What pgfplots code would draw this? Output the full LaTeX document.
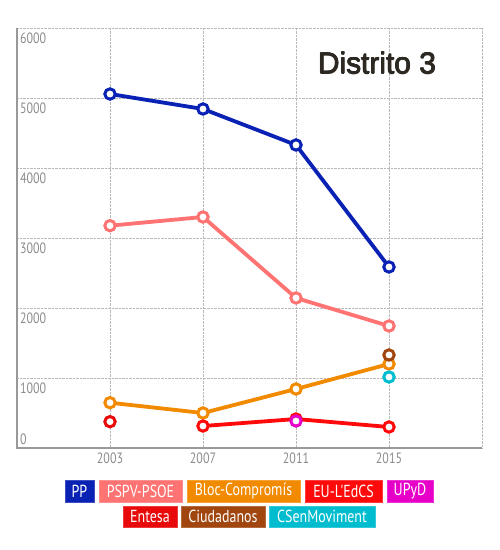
\documentclass[border=0pt]{standalone}
\usepackage{pgfplots}
\pgfplotsset{compat=1.18}
\usepackage{fontspec}
\setmainfont{Liberation Sans}
\newfontfamily\condfont[FakeStretch=0.8]{PT Sans}

\definecolor{ppc}{HTML}{0A22B4}
\definecolor{psoec}{HTML}{FF7373}
\definecolor{blocc}{HTML}{F28A00}
\definecolor{euc}{HTML}{FF0A0A}
\definecolor{upydc}{HTML}{E600C8}
\definecolor{entc}{HTML}{E80A0A}
\definecolor{csc}{HTML}{A0460E}
\definecolor{csenc}{HTML}{00BCCF}
\definecolor{tickc}{HTML}{8C8C8C}
\definecolor{titlec}{HTML}{2D2822}

% legend box: left, right, top, bottom (image pixels), colour, text
\newcommand{\legbox}[6]{%
  \fill[#5, draw=#5!80!white, line width=0.8bp] ({#1*1bp},{(550-#3)*1bp}) rectangle ({#2*1bp},{(550-#4)*1bp});
  \node[text=white, font=\condfont\fontsize{17.5}{18}\selectfont, inner sep=0pt]
    at ({(#1+#2)/2*1bp},{(550-(#3+#4)/2)*1bp}) {#6};}

\begin{document}
\begin{tikzpicture}
\fill[white] (0,0) rectangle (500bp,550bp);
\path[use as bounding box] (0,0) rectangle (500bp,550bp);

\begin{axis}[
  at={(17bp,102bp)}, anchor=south west,
  scale only axis, width=465bp, height=420bp,
  xmin=1999, xmax=2019, ymin=0, ymax=6000,
  axis line style={draw=none},
  xtick={2003,2007,2011,2015},
  ytick={1000,2000,3000,4000,5000,6000},
  extra x ticks={2019}, extra x tick labels={},
  extra y ticks={0},
  extra y tick style={yticklabel style={anchor=south west, yshift=8bp}},
  major tick length=0pt,
  grid=major,
  grid style={densely dotted, color=gray!55, line width=0.7bp},
  /pgf/number format/assume math mode=true,
  /pgf/number format/1000 sep={},
  ticklabel style={font=\condfont\fontsize{15}{16}\selectfont, text=tickc, inner sep=0pt},
  xticklabel style={anchor=north, yshift=-5bp},
  yticklabel style={anchor=north west, xshift=3bp, yshift=-5bp},
  every axis plot/.append style={line width=3.8bp, mark=*, mark size=5.2bp},
  clip=false,
]
\draw[color=gray!80, line width=1.3bp] (rel axis cs:0,1) -- (rel axis cs:0,0) -- (rel axis cs:1,0);

\addplot[color=ppc, mark options={fill=white, line width=3bp}] coordinates {
  (2003,5057) (2007,4843) (2011,4329) (2015,2586)};
\addplot[color=psoec, mark options={fill=white, line width=3bp}] coordinates {
  (2003,3176) (2007,3300) (2011,2143) (2015,1743)};
\addplot[color=blocc, mark options={fill=white, line width=3bp}] coordinates {
  (2003,647) (2007,500) (2011,843) (2015,1200)};
\addplot[color=euc, mark options={fill=white, line width=3bp}] coordinates {
  (2007,314) (2011,414) (2015,300)};
\addplot[color=upydc, mark options={fill=white, line width=3bp}] coordinates {
  (2011,386)};
\addplot[color=entc, mark options={fill=white, line width=3bp}] coordinates {
  (2003,376)};
\addplot[color=csc, mark options={fill=white, line width=3bp}] coordinates {
  (2015,1329)};
\addplot[color=csenc, mark options={fill=white, line width=3bp}] coordinates {
  (2015,1014)};
\end{axis}

% title, set a little heavier by overprinting
\foreach \dx/\dy in {-0.45/0,0.45/0,0/-0.35,0/0.35,0/0}
  \node[font=\fontsize{30}{32}\selectfont, text=titlec] at ({(377+\dx)*1bp},{(487+\dy)*1bp}) {Distrito 3};

\legbox{65}{94}{480}{502}{ppc}{PP}
\legbox{99}{182}{480}{502}{psoec}{PSPV-PSOE}
\legbox{187}{300}{480}{502}{blocc}{Bloc-Compromís}
\legbox{305}{382}{480}{502}{euc}{EU-L'EdCS}
\legbox{387}{433}{480}{502}{upydc}{UPyD}
\legbox{123}{177}{506}{527}{entc}{Entesa}
\legbox{181}{265}{506}{527}{csc}{Ciudadanos}
\legbox{269}{375}{506}{527}{csenc}{CSenMoviment}
\end{tikzpicture}
\end{document}
